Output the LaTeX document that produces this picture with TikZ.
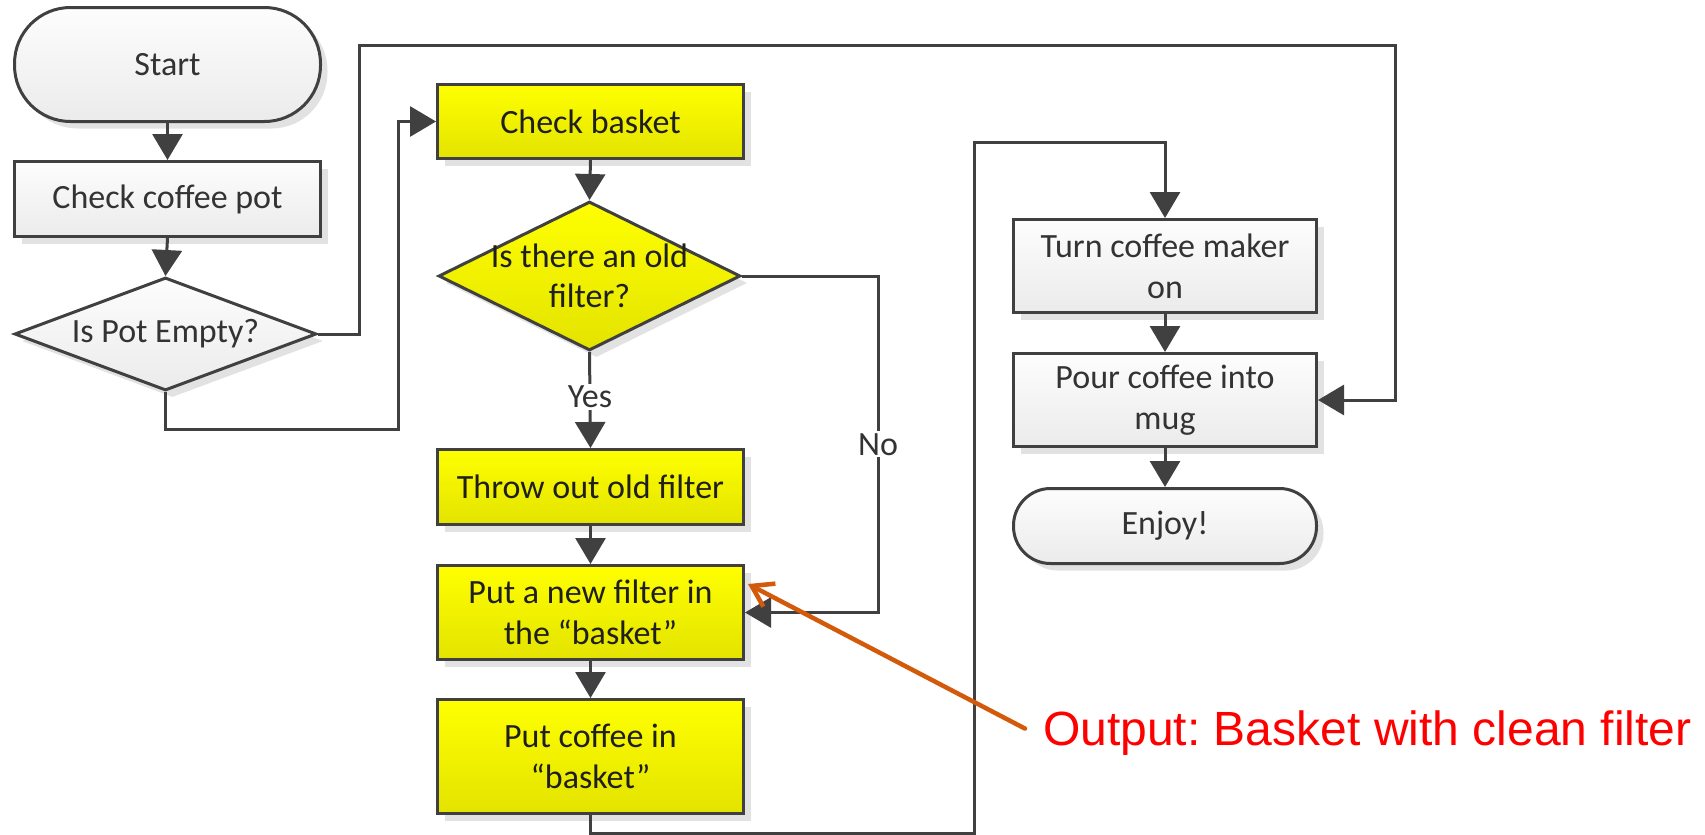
\documentclass[tikz,border=0pt]{standalone}
\usepackage{fontspec}
\setmainfont{Carlito}
\newfontfamily\outfont{Liberation Sans}
\usetikzlibrary{arrows.meta,shapes.geometric,shadows,calc}
\definecolor{ln}{HTML}{404040}
\definecolor{ylw}{HTML}{FFFF00}
\definecolor{ylwb}{HTML}{E3E300}
\definecolor{gtop}{HTML}{FDFDFD}
\definecolor{gbot}{HTML}{EBEBEB}
\definecolor{shd}{HTML}{E2E2E2}
\definecolor{org}{RGB}{210,90,10}
\definecolor{txt}{HTML}{333333}
\begin{document}
\begin{tikzpicture}[x=1pt,y=-1pt,
  base/.style={draw=ln, line width=3pt, text=txt, font=\fontsize{34}{41}\selectfont,
    align=center, inner sep=0pt,
    drop shadow={shadow xshift=7pt, shadow yshift=-7pt, fill=shd, opacity=1}},
  graybox/.style={base, rectangle, top color=gtop, bottom color=gbot},
  yelbox/.style={base, rectangle, top color=ylw, bottom color=ylwb, text=black!88},
  graydia/.style={base, diamond, top color=gtop, bottom color=gbot},
  yeldia/.style={base, diamond, top color=ylw, bottom color=ylwb},
  diatext/.style={align=center, inner sep=0pt, font=\fontsize{34}{40}\selectfont},
  conn/.style={draw=ln, line width=3pt, -{Triangle[length=26pt,width=30pt]}},
  lbl/.style={fill=white, inner sep=2pt, text=txt, font=\fontsize{34}{41}\selectfont},
  orangearrow/.style={draw=org, line width=4.5pt, line cap=round,
    -{Straight Barb[length=20pt,width=26pt]}}
]
\useasboundingbox (0,0) rectangle (1705,835);

% left column
\node[graybox, rounded corners=56pt, minimum width=306pt, minimum height=114pt] (start) at (167.5,64.5) {Start};
\node[graybox, minimum width=306pt, minimum height=75pt] (check) at (167.5,199) {Check coffee pot};
\node[graydia, minimum width=302pt, minimum height=113pt,
  label={[diatext, text=txt]center:Is Pot Empty?}] (pot) at (165.5,334) {};

% middle column
\node[yelbox, minimum width=306pt, minimum height=74pt] (basket) at (590.5,121.5) {Check basket};
\node[yeldia, minimum width=302pt, minimum height=149pt,
  label={[diatext, text=black!88]center:Is there an old\\filter?}] (filt) at (589.5,276) {};
\node[yelbox, minimum width=306pt, minimum height=75pt] (throw) at (590.5,487) {Throw out old filter};
\node[yelbox, minimum width=306pt, minimum height=94pt] (newf) at (590.5,612.5) {Put a new filter in\\the “basket”};
\node[yelbox, minimum width=306pt, minimum height=114pt] (coffee) at (590.5,756.5) {Put coffee in\\“basket”};

% right column
\node[graybox, minimum width=303pt, minimum height=93pt] (turn) at (1165,266) {Turn coffee maker\\on};
\node[graybox, minimum width=303pt, minimum height=93pt] (pour) at (1165,400) {Pour coffee into\\mug};
\node[graybox, rounded corners=37pt, minimum width=303pt, minimum height=75pt] (enjoy) at (1165,526) {Enjoy!};

% output note
\node[anchor=base west, inner sep=0pt, text=red, font=\outfont\fontsize{48}{56}\selectfont\frenchspacing] (out) at (1043,745) {Output: Basket with clean filter};

% routing points
\coordinate (la) at (359,45);
\coordinate (lb) at (1395,45);
\coordinate (lc) at (398,429);
\coordinate (ld) at (974,833);
\coordinate (le) at (974,142);
\coordinate (nocorner) at (878,276);
\coordinate (otip) at ($(newf.north east)+(3,20)$);
\coordinate (otail) at ($(out.west)+(-18,-4)$);

% connectors
\draw[conn] (start.south) -- (check.north);
\draw[conn] (check.south) -- (pot.north);
\draw[conn] (pot.east) -| (la) -- (lb) |- (pour.east);
\draw[conn] (pot.south) |- (lc) |- (basket.west);
\draw[conn] (basket.south) -- (filt.north);
\draw[conn] (filt.south) -- node[lbl, pos=0.47] (yes) {Yes} (throw.north);
\draw[conn] (filt.east) -- (nocorner) -- node[lbl] (no) {No} (nocorner |- newf.east) -- (newf.east);
\draw[conn] (throw.south) -- (newf.north);
\draw[conn] (newf.south) -- (coffee.north);
\draw[conn] (coffee.south) |- (ld) -- (le) -| (turn.north);
\draw[conn] (turn.south) -- (pour.north);
\draw[conn] (pour.south) -- (enjoy.north);

\draw[orangearrow] (otail) -- (otip);
\end{tikzpicture}
\end{document}
